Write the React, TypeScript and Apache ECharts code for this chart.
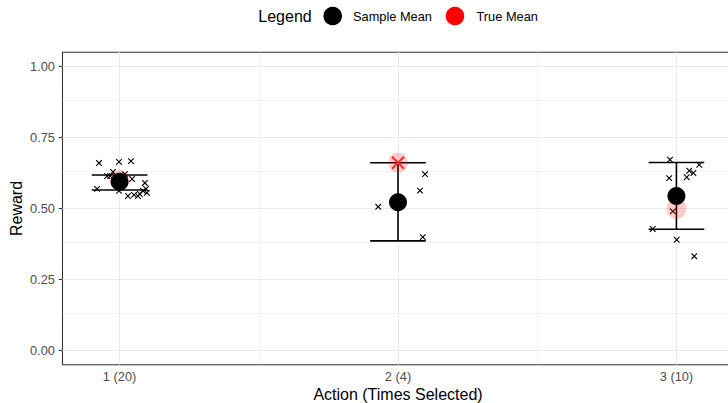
import React, { useEffect, useRef } from "react";
import * as echarts from "echarts";

const FONT = "'Liberation Sans', Arial, Helvetica, sans-serif";

// Actions and their summary statistics
const actions = [1, 2, 3];
const timesSelected = [20, 4, 10];
const sampleMeans = [0.594, 0.522, 0.544];
const lowerBounds = [0.565, 0.386, 0.427];
const upperBounds = [0.618, 0.661, 0.662];
const trueMeans = [0.6, 0.661, 0.499];
const optimalAction = 2;

// Individual observed rewards (with horizontal jitter offsets)
const rewards1 = [0.660, 0.664, 0.667, 0.614, 0.604, 0.569, 0.562, 0.590, 0.569, 0.562, 0.555, 0.544, 0.548, 0.551, 0.544, 0.629, 0.621, 0.614, 0.607, 0.614];
const jitter1 = [-0.074, -0.002, 0.041, -0.045, 0.045, -0.081, -0.002, 0.091, 0.095, 0.084, 0.098, 0.030, 0.052, 0.073, 0.066, -0.024, 0.019, -0.013, 0.009, -0.034];
const rewards2 = [0.621, 0.563, 0.506, 0.399];
const jitter2 = [0.097, 0.079, -0.071, 0.089];
const rewards3 = [0.672, 0.607, 0.610, 0.633, 0.625, 0.654, 0.490, 0.428, 0.390, 0.332];
const jitter3 = [-0.023, -0.026, 0.037, 0.046, 0.061, 0.082, -0.013, -0.085, 0.001, 0.064];

// Axis ticks
const yTicks = [0, 0.25, 0.5, 0.75, 1];
const yMinorTicks = [0.125, 0.375, 0.625, 0.875];
const xMinorTicks = [1.5, 2.5];

const allRewards = [rewards1, rewards2, rewards3];
const allJitter = [jitter1, jitter2, jitter3];

export default function App() {
  const ref = useRef<HTMLDivElement>(null);

  useEffect(() => {
    document.body.style.overflow = "hidden";
    const chart = echarts.init(ref.current!, null, { renderer: "svg" });

    const samples: number[][] = [];
    allRewards.forEach((arr, i) => {
      arr.forEach((r, j) => samples.push([actions[i] + allJitter[i][j], r]));
    });

    const crossRender = (size: number, color: string, width: number) => (params: any, api: any) => {
      const p = api.coord([api.value(0), api.value(1)]);
      return {
        type: "group",
        children: [
          { type: "line", shape: { x1: p[0] - size, y1: p[1] - size, x2: p[0] + size, y2: p[1] + size }, style: { stroke: color, lineWidth: width } },
          { type: "line", shape: { x1: p[0] - size, y1: p[1] + size, x2: p[0] + size, y2: p[1] - size }, style: { stroke: color, lineWidth: width } },
        ],
      };
    };

    const gridLineData: any[] = [
      ...actions.map((v) => ({ xAxis: v })),
      ...xMinorTicks.map((v) => ({ xAxis: v, lineStyle: { width: 0.53 } })),
      ...yTicks.map((v) => ({ yAxis: v })),
      ...yMinorTicks.map((v) => ({ yAxis: v, lineStyle: { width: 0.53 } })),
    ];

    const option: any = {
      animation: false,
      textStyle: { fontFamily: FONT },
      grid: {
        left: 62.5,
        top: 52.3,
        width: 671,
        height: 312.4,
        show: true,
        borderColor: "#333333",
        borderWidth: 1.07,
        backgroundColor: "transparent",
      },
      xAxis: {
        type: "value",
        min: 0.795,
        max: 3.205,
        axisLine: { show: false },
        splitLine: { show: false },
        axisTick: { show: true, customValues: actions, length: 3.7, lineStyle: { color: "#333333", width: 1.07 } },
        axisLabel: {
          customValues: actions,
          formatter: (v: number) => `${v} (${timesSelected[actions.indexOf(Math.round(v))]})`,
          color: "#4d4d4d",
          fontSize: 12.8,
          margin: 5,
          fontFamily: FONT,
        },
      },
      yAxis: {
        type: "value",
        min: -0.05,
        max: 1.05,
        axisLine: { show: false },
        splitLine: { show: false },
        axisTick: { show: true, customValues: yTicks, length: 3.7, lineStyle: { color: "#333333", width: 1.07 } },
        axisLabel: {
          customValues: yTicks,
          formatter: (v: number) => v.toFixed(2),
          color: "#4d4d4d",
          fontSize: 12.8,
          margin: 7.5,
          fontFamily: FONT,
        },
      },
      graphic: [
        { type: "text", x: 258.3, y: 16, style: { text: "Legend", fontSize: 16, fontFamily: FONT, fill: "#000", verticalAlign: "middle", textAlign: "left" } },
        { type: "circle", shape: { cx: 332.7, cy: 16, r: 9.3 }, style: { fill: "#000" } },
        { type: "text", x: 353, y: 16, style: { text: "Sample Mean", fontSize: 12.8, fontFamily: FONT, fill: "#000", verticalAlign: "middle", textAlign: "left" } },
        { type: "circle", shape: { cx: 455, cy: 16, r: 9.3 }, style: { fill: "#ff0000" } },
        { type: "text", x: 476.5, y: 16, style: { text: "True Mean", fontSize: 12.8, fontFamily: FONT, fill: "#000", verticalAlign: "middle", textAlign: "left" } },
        { type: "text", x: 16, y: 208.5, rotation: Math.PI / 2, style: { text: "Reward", fontSize: 16, fontFamily: FONT, fill: "#000", verticalAlign: "middle", textAlign: "center" } },
        { type: "text", x: 398, y: 394, style: { text: "Action (Times Selected)", fontSize: 16, fontFamily: FONT, fill: "#000", verticalAlign: "middle", textAlign: "center" } },
      ],
      series: [
        {
          type: "scatter",
          data: [],
          z: 1,
          silent: true,
          markLine: {
            z: 1,
            silent: true,
            symbol: ["none", "none"],
            label: { show: false },
            lineStyle: { color: "#ebebeb", width: 1.07, type: "solid" },
            emphasis: { disabled: true },
            data: gridLineData,
          },
        },
        {
          type: "custom",
          z: 2,
          silent: true,
          encode: { x: 0, y: [1, 2] },
          data: actions.map((a, i) => [a, lowerBounds[i], upperBounds[i]]),
          renderItem: (params: any, api: any) => {
            const x = api.value(0);
            const lo = api.coord([x, api.value(1)]);
            const hi = api.coord([x, api.value(2)]);
            const loL = api.coord([x - 0.1, api.value(1)]);
            const loR = api.coord([x + 0.1, api.value(1)]);
            const hiL = api.coord([x - 0.1, api.value(2)]);
            const hiR = api.coord([x + 0.1, api.value(2)]);
            const st = { stroke: "#000", lineWidth: 1.6 };
            return {
              type: "group",
              children: [
                { type: "line", shape: { x1: lo[0], y1: lo[1], x2: hi[0], y2: hi[1] }, style: st },
                { type: "line", shape: { x1: loL[0], y1: loL[1], x2: loR[0], y2: loR[1] }, style: st },
                { type: "line", shape: { x1: hiL[0], y1: hiL[1], x2: hiR[0], y2: hiR[1] }, style: st },
              ],
            };
          },
        },
        {
          type: "custom",
          z: 3,
          silent: true,
          encode: { x: 0, y: 1 },
          data: samples,
          renderItem: crossRender(2.8, "#000", 1.1),
        },
        {
          type: "scatter",
          z: 4,
          silent: true,
          symbol: "circle",
          symbolSize: 20,
          itemStyle: { color: "rgba(255,0,0,0.2)", opacity: 1 },
          data: actions.map((a, i) => [a, trueMeans[i]]),
        },
        {
          type: "scatter",
          z: 5,
          silent: true,
          symbol: "circle",
          symbolSize: 18,
          itemStyle: { color: "#000", opacity: 1 },
          data: actions.map((a, i) => [a, sampleMeans[i]]),
        },
        {
          type: "custom",
          z: 6,
          silent: true,
          encode: { x: 0, y: 1 },
          data: [[optimalAction, trueMeans[actions.indexOf(optimalAction)]]],
          renderItem: crossRender(6, "#ff2a2a", 2),
        },
      ],
    };

    chart.setOption(option);
    return () => chart.dispose();
  }, []);

  return (
    <div
      ref={ref}
      style={{ position: "fixed", left: 0, top: 0, width: 745, height: 403, background: "#fff" }}
    />
  );
}
